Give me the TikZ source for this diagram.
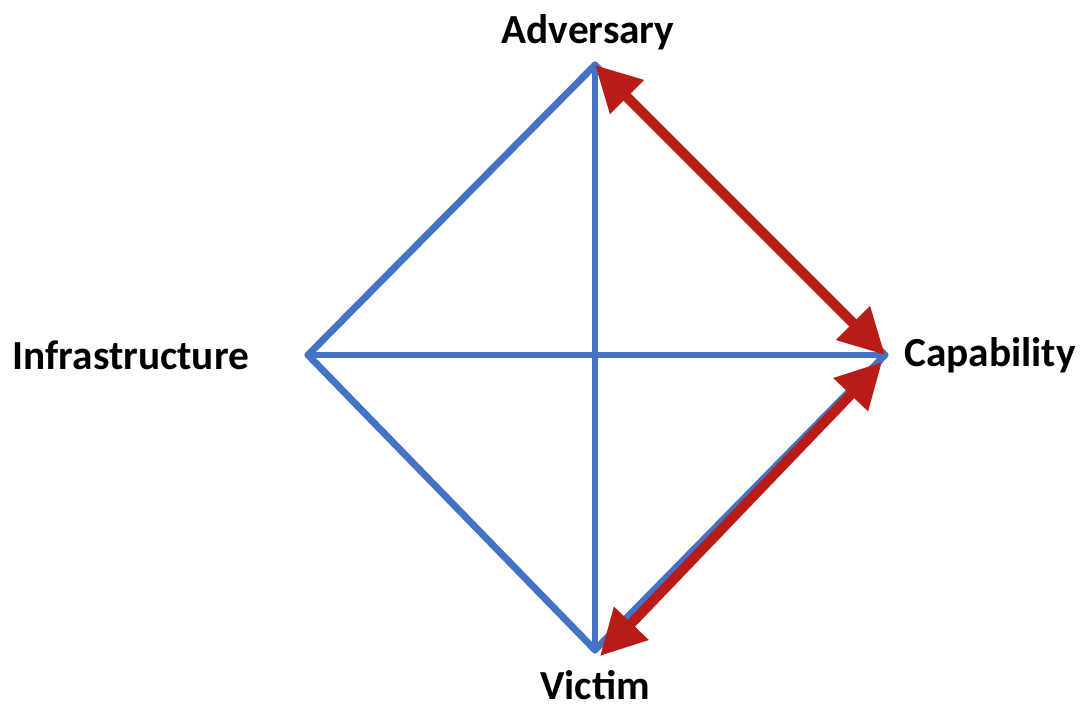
\documentclass[tikz,border=0pt]{standalone}
\usepackage{fontspec}
\setmainfont{Carlito}
\usetikzlibrary{arrows.meta, calc}
\usepackage{xcolor}
\definecolor{edgeblue}{RGB}{68,114,196}
\definecolor{arrowred}{RGB}{185,28,22}
\tikzset{
  edg/.style={draw=edgeblue, line width=5.2pt, line cap=round, line join=round},
  rel/.style={draw=arrowred, line width=7.5pt,
    {Triangle[length=34pt,width=34pt]}-{Triangle[length=34pt,width=34pt]}},
  lbl/.style={font=\fontsize{31}{36}\selectfont\bfseries, text=black, inner sep=0pt},
}

\begin{document}
\begin{tikzpicture}[x=0.75pt, y=-0.75pt]

  % ---- canvas ----
  \useasboundingbox (0,0) rectangle (1081,710);

  % ---- vertices ----
  \coordinate (adv) at (595,65);
  \coordinate (cap) at (885,355);
  \coordinate (vic) at (595,650);
  \coordinate (inf) at (308,355);
  \coordinate (vicR) at (600,656);
  \coordinate (capR) at (882,362);

  % ---- labels ----
  \node[lbl] (ladv) at (588,32)  {Adversary};
  \node[lbl] (lcap) at (990,355) {Capability};
  \node[lbl] (lvic) at (595,685) {Victim};
  \node[lbl] (linf) at (131,355) {Infrastructure};

  % ---- diamond ----
  \draw[edg] (adv) -- (cap) -- (vic) -- (inf) -- cycle;
  \draw[edg] (adv) -- (vic);
  \draw[edg] (inf) -- (cap);

  % ---- arrows ----
  \draw[rel] (adv) -- (cap);
  \draw[rel] (vicR) -- (capR);
\end{tikzpicture}
\end{document}
